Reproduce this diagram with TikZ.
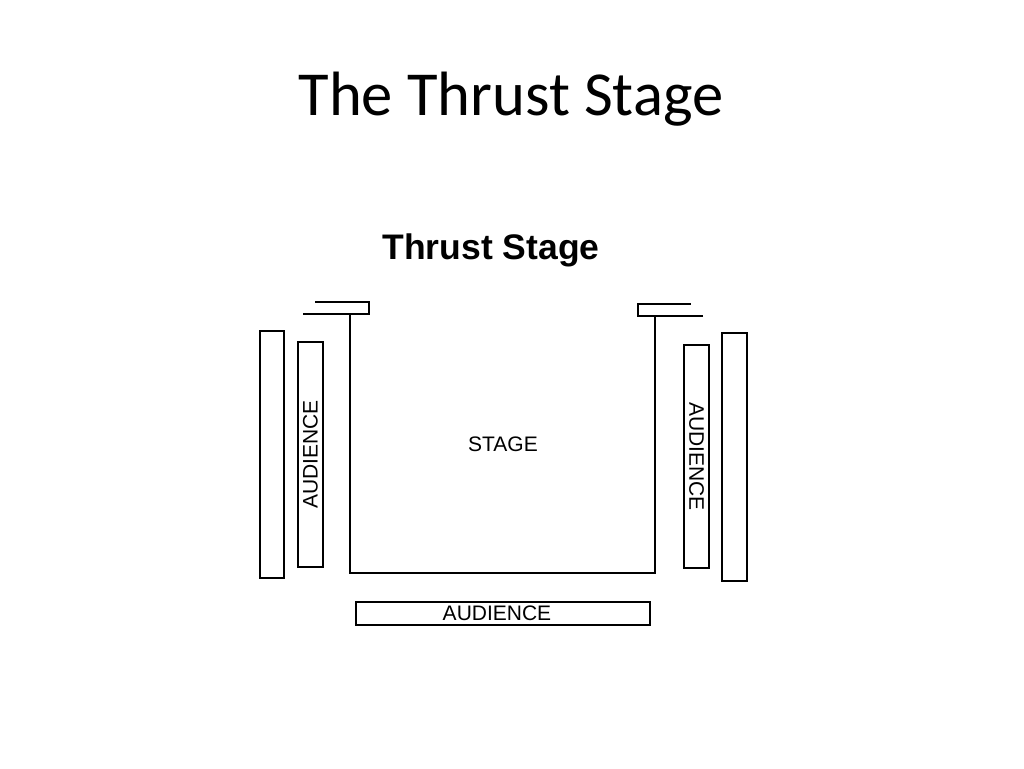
\documentclass[tikz,border=0pt]{standalone}
\usepackage{fontspec}
\setmainfont{Carlito}
\newfontfamily\planfont{Liberation Sans}
\usetikzlibrary{positioning}

\begin{document}
\begin{tikzpicture}[x=1pt, y=-1pt,
						bench/.style={draw, rectangle, line width=1.6pt, inner sep=0pt, font=\planfont\fontsize{21}{21}\selectfont},
						tag/.style={inner sep=0pt, font=\planfont\fontsize{21}{21}\selectfont},
						wall/.style={draw, line width=2.6pt},
						flat/.style={draw, line width=1.8pt},]
		\useasboundingbox (0,0) rectangle (1024,768);
		\node (title) [anchor=base] at (511,115) {\fontsize{62.6}{70}\selectfont The Thrust Stage};
		\node (heading) [anchor=base, font=\planfont\bfseries\fontsize{35.5}{35.5}\selectfont] at (491,259) {Thrust Stage};

		% audience seating
		\node (outerleft) [bench, minimum width=24, minimum height=247] at (272,454.5) {};
		\node (innerleft) [bench, rotate=90, minimum width=225, minimum height=25] at (310.5,454.5) {AUDIENCE};
		\node (innerright) [bench, rotate=-90, minimum width=223, minimum height=25] at (696.5,456.5) {AUDIENCE};
		\node (outerright) [bench, minimum width=25, minimum height=248] at (734.5,457) {};
		\node (front) [bench, minimum width=294, minimum height=23] at (503,613.5) {};
		\node (frontlabel) [tag] at ([xshift=-6pt]front.center) {AUDIENCE};

		% stage
		\coordinate (usl) at (350,314);
		\coordinate (dsl) at (350,573);
		\coordinate (dsr) at (655,573);
		\coordinate (usr) at (655,316);
		\node (stage) [tag] at (503,444) {STAGE};
		\draw[wall] (usl) -- (dsl) -- (dsr) -- (usr);
		\draw[flat] (303,314) -- (369,314) -- (369,302) -- (315,302);
		\draw[flat] (703,316) -- (638,316) -- (638,304) -- (691,304);
	\end{tikzpicture}
\end{document}
